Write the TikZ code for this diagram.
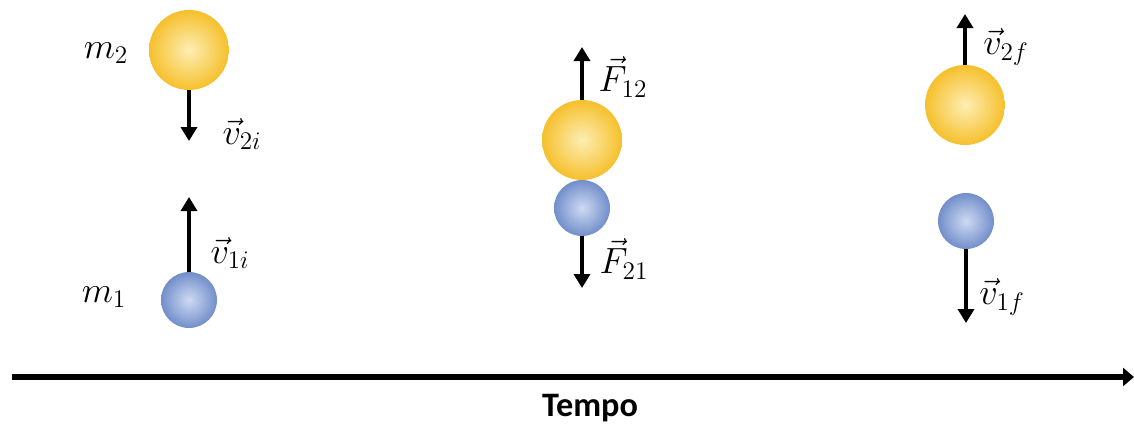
\documentclass[tikz,border=0pt]{standalone}
\usepackage{fontspec}
\setsansfont{Carlito}
\usetikzlibrary{arrows.meta}
\definecolor{gold2}{RGB}{246,192,44}
\definecolor{lightgold}{RGB}{253,238,180}
\definecolor{blue2}{RGB}{114,142,202}
\definecolor{lightblue}{RGB}{206,218,242}
\tikzset{
  bigball/.style={circle, minimum size=16mm, inner sep=0pt,
    inner color=lightgold, outer color=gold2},
  smallball/.style={circle, minimum size=11.2mm, inner sep=0pt,
    inner color=lightblue, outer color=blue2},
  vec/.style={-{Triangle[length=2.8mm,width=3.2mm]}, line width=2.6pt},
  axis/.style={-{Triangle[length=2.2mm,width=3.6mm]}, line width=3pt},
  lab/.style={font=\fontsize{21}{24}\selectfont, inner sep=0pt}
}

\begin{document}
\begin{tikzpicture}[x=0.02cm, y=-0.02cm]
\useasboundingbox (0,0) rectangle (1134,427);

% before the collision
\node[bigball] (b2i) at (189,50) {};
\node[smallball] (b1i) at (189,300) {};
\coordinate (v2iend) at (189,141);
\coordinate (v1iend) at (189,197);
\draw[vec] (b2i.south) -- (v2iend);
\draw[vec] (b1i.north) -- (v1iend);
\node[lab] (m2) at (106,53) {$m_2$};
\node[lab] (m1) at (104,297) {$m_1$};
\node[lab] (v2i) at (242,134) {$\vec{v}_{2i}$};
\node[lab] (v1i) at (230,253) {$\vec{v}_{1i}$};

% during the collision
\node[bigball] (b2c) at (582,140) {};
\node[smallball] (b1c) at (582,208) {};
\coordinate (f12end) at (582,47);
\coordinate (f21end) at (582,288);
\draw[vec] (b2c.north) -- (f12end);
\draw[vec] (b1c.south) -- (f21end);
\node[lab] (f12) at (623,77) {$\vec{F}_{12}$};
\node[lab] (f21) at (624,259) {$\vec{F}_{21}$};

% after the collision
\node[bigball] (b2f) at (965,105) {};
\node[smallball] (b1f) at (966,221) {};
\coordinate (v2fend) at (965,14);
\coordinate (v1fend) at (966,323);
\draw[vec] (b2f.north) -- (v2fend);
\draw[vec] (b1f.south) -- (v1fend);
\node[lab] (v2f) at (1006,47) {$\vec{v}_{2f}$};
\node[lab] (v1f) at (1002,297) {$\vec{v}_{1f}$};

% time axis
\coordinate (t0) at (12,377);
\coordinate (t1) at (1134,377);
\draw[axis] (t0) -- (t1);
\node[font=\sffamily\bfseries\fontsize{19.5}{23}\selectfont] (tempo) at (590,408) {Tempo};
\end{tikzpicture}
\end{document}
